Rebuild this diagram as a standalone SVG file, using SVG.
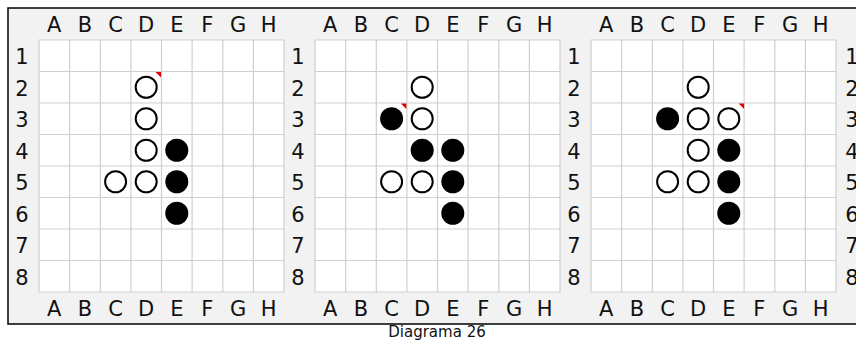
<svg xmlns="http://www.w3.org/2000/svg" xmlns:xlink="http://www.w3.org/1999/xlink" width="856" height="341" viewBox="0 0 856 341">
<style>
.lbl{font-family:"DejaVu Sans",Verdana,sans-serif;font-size:21px;fill:#111;text-anchor:middle}
.title{font-family:"DejaVu Sans",Verdana,sans-serif;font-size:15px;fill:#111;text-anchor:middle}
.grid{fill:none;stroke:#cfcfcf;stroke-width:1.2}
.w{fill:#fff;stroke:#000;stroke-width:2}
.b{fill:#000}
.mark{fill:#e00000}
</style>
<defs>
<g id="board">
<rect x="0" y="0" width="245" height="252" fill="#fff"/>
<path class="grid" d="M0,0H245V252H0Z M30.6,0V252 M61.3,0V252 M91.9,0V252 M122.5,0V252 M153.1,0V252 M183.8,0V252 M214.4,0V252 M0,31.5H245 M0,63H245 M0,94.5H245 M0,126H245 M0,157.5H245 M0,189H245 M0,220.5H245"/>
<g class="lbl">
<text x="15.3" y="-8.5">A</text><text x="45.9" y="-8.5">B</text><text x="76.6" y="-8.5">C</text><text x="107.2" y="-8.5">D</text><text x="137.8" y="-8.5">E</text><text x="168.4" y="-8.5">F</text><text x="199.1" y="-8.5">G</text><text x="229.7" y="-8.5">H</text>
<text x="15.3" y="276">A</text><text x="45.9" y="276">B</text><text x="76.6" y="276">C</text><text x="107.2" y="276">D</text><text x="137.8" y="276">E</text><text x="168.4" y="276">F</text><text x="199.1" y="276">G</text><text x="229.7" y="276">H</text>
<text x="-17" y="24">1</text><text x="-17" y="55.5">2</text><text x="-17" y="87">3</text><text x="-17" y="118.5">4</text><text x="-17" y="150">5</text><text x="-17" y="181.5">6</text><text x="-17" y="213">7</text><text x="-17" y="244.5">8</text>
</g>
</g>
</defs>
<rect x="8" y="8" width="870" height="316" fill="#f2f2f2" stroke="#000" stroke-width="1.5"/>

<g id="board1" transform="translate(39,40)">
<use xlink:href="#board"/>
<circle class="w" cx="107.2" cy="47.25" r="10.5"/>
<circle class="w" cx="107.2" cy="78.75" r="10.5"/>
<circle class="w" cx="107.2" cy="110.25" r="10.5"/>
<circle class="w" cx="107.2" cy="141.75" r="10.5"/>
<circle class="w" cx="76.6" cy="141.75" r="10.5"/>
<circle class="b" cx="137.8" cy="110.25" r="11.5"/>
<circle class="b" cx="137.8" cy="141.75" r="11.5"/>
<circle class="b" cx="137.8" cy="173.25" r="11.5"/>
<polygon class="mark" points="116.5,32 122,32 122,37.5"/>
</g>

<g id="board2" transform="translate(315,40)">
<use xlink:href="#board"/>
<circle class="w" cx="107.2" cy="47.25" r="10.5"/>
<circle class="w" cx="107.2" cy="78.75" r="10.5"/>
<circle class="w" cx="76.6" cy="141.75" r="10.5"/>
<circle class="w" cx="107.2" cy="141.75" r="10.5"/>
<circle class="b" cx="76.6" cy="78.75" r="11.5"/>
<circle class="b" cx="107.2" cy="110.25" r="11.5"/>
<circle class="b" cx="137.8" cy="110.25" r="11.5"/>
<circle class="b" cx="137.8" cy="141.75" r="11.5"/>
<circle class="b" cx="137.8" cy="173.25" r="11.5"/>
<polygon class="mark" points="85.9,63.5 91.4,63.5 91.4,69"/>
</g>

<g id="board3" transform="translate(591,40)">
<use xlink:href="#board"/>
<circle class="w" cx="107.2" cy="47.25" r="10.5"/>
<circle class="w" cx="107.2" cy="78.75" r="10.5"/>
<circle class="w" cx="137.8" cy="78.75" r="10.5"/>
<circle class="w" cx="107.2" cy="110.25" r="10.5"/>
<circle class="w" cx="76.6" cy="141.75" r="10.5"/>
<circle class="w" cx="107.2" cy="141.75" r="10.5"/>
<circle class="b" cx="76.6" cy="78.75" r="11.5"/>
<circle class="b" cx="137.8" cy="110.25" r="11.5"/>
<circle class="b" cx="137.8" cy="141.75" r="11.5"/>
<circle class="b" cx="137.8" cy="173.25" r="11.5"/>
<polygon class="mark" points="147.6,63.5 153.1,63.5 153.1,69"/>
<g class="lbl">
<text x="261" y="24">1</text><text x="261" y="55.5">2</text><text x="261" y="87">3</text><text x="261" y="118.5">4</text><text x="261" y="150">5</text><text x="261" y="181.5">6</text><text x="261" y="213">7</text><text x="261" y="244.5">8</text>
</g>
</g>

<g id="connectors"/>
<text class="title" x="437" y="337">Diagrama 26</text>
</svg>
